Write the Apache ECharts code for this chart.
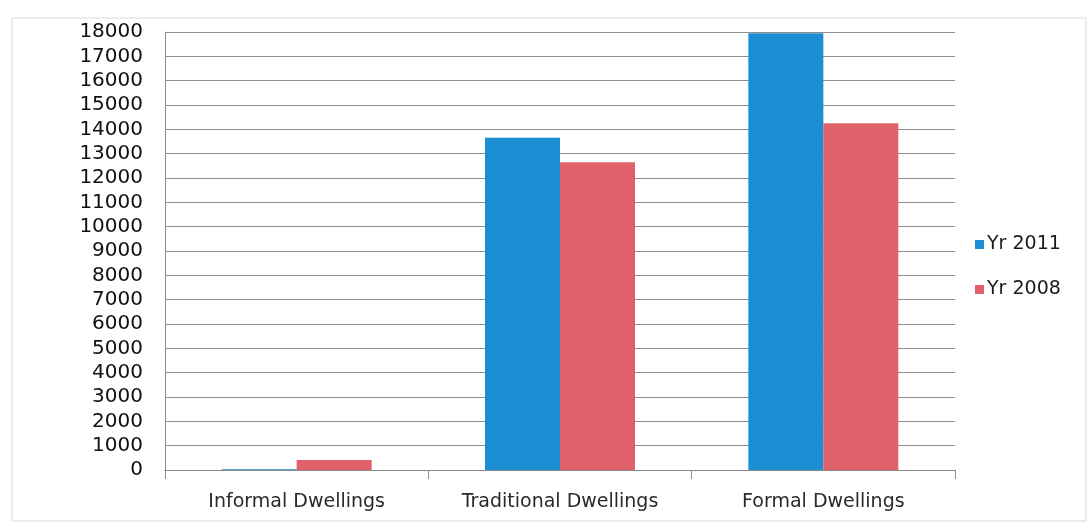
<!DOCTYPE html>
<html>
<head>
<meta charset="utf-8">
<script src="https://cdn.jsdelivr.net/npm/echarts@6/dist/echarts.min.js"></script>
<style>
  html, body { margin: 0; padding: 0; background: #fff; }
  #chart { width: 1089px; height: 528px; }
</style>
</head>
<body>
<div id="chart"></div>
<script>
// Dwelling counts by type, two survey years
const categories = ['Informal Dwellings', 'Traditional Dwellings', 'Formal Dwellings'];
const seriesNames = ['Yr 2011', 'Yr 2008'];
const yr2011 = [30, 13650, 17950];
const yr2008 = [410, 12650, 14250];
const yTicks = { min: 0, max: 18000, step: 1000 };

const blue = '#1C8ED4';
const red = '#E1616B';
const textFont = '"DejaVu Sans", "Open Sans", sans-serif';

const chart = echarts.init(document.getElementById('chart'));
chart.setOption({
  animation: false,
  backgroundColor: '#ffffff',
  graphic: [{
    type: 'rect',
    shape: { x: 12, y: 18, width: 1074, height: 503 },
    style: { fill: 'none', stroke: '#dadada', lineWidth: 1 },
    silent: true
  }],
  grid: { left: 165, right: 134, top: 32, bottom: 58 },
  legend: {
    orient: 'vertical',
    left: 970,
    top: 230,
    itemWidth: 9,
    itemHeight: 9,
    itemGap: 26,
    icon: 'rect',
    textStyle: { fontFamily: textFont, fontSize: 19, color: '#1a1a1a', padding: [0, 0, 0, -2] },
    data: seriesNames
  },
  xAxis: {
    type: 'category',
    data: categories,
    boundaryGap: true,
    axisLine: { show: true, lineStyle: { color: '#8a8a8a', width: 1 } },
    axisTick: { show: true, length: 9, interval: 0, lineStyle: { color: '#8a8a8a' } },
    axisLabel: {
      interval: 0,
      hideOverlap: false,
      margin: 23,
      fontFamily: textFont,
      fontSize: 19,
      color: '#2a2a2a'
    }
  },
  yAxis: {
    type: 'value',
    min: yTicks.min,
    max: yTicks.max,
    interval: yTicks.step,
    axisLine: { show: true, lineStyle: { color: '#8a8a8a', width: 1 } },
    axisTick: { show: false },
    splitLine: { lineStyle: { color: '#8e8e8e', width: 1 } },
    axisLabel: {
      margin: 22,
      fontFamily: textFont,
      fontSize: 20,
      color: '#111',
      formatter: (v) => String(v)
    }
  },
  series: [
    {
      name: seriesNames[0],
      type: 'bar',
      data: yr2011,
      barWidth: 75,
      barGap: '0%',
      itemStyle: { color: blue }
    },
    {
      name: seriesNames[1],
      type: 'bar',
      data: yr2008,
      barWidth: 75,
      barGap: '0%',
      itemStyle: { color: red }
    }
  ]
});
</script>
</body>
</html>
